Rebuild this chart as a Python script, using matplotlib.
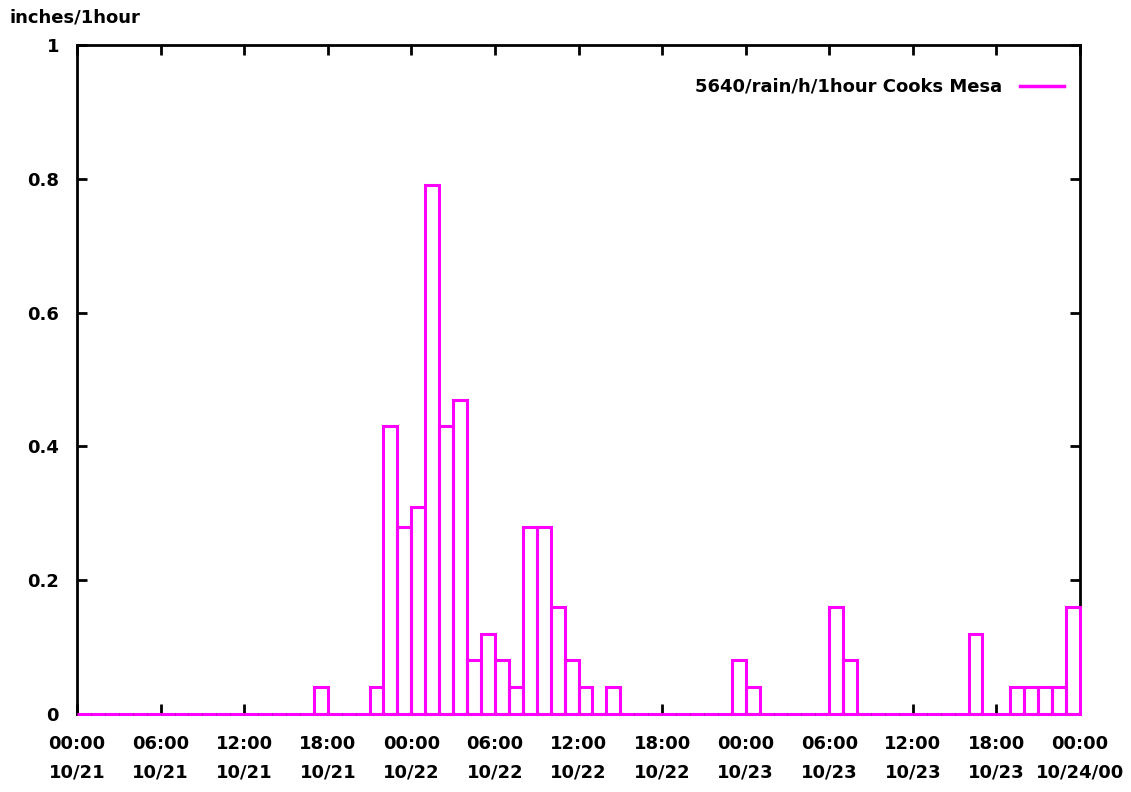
import numpy as np
import matplotlib
matplotlib.use("Agg")
import matplotlib.pyplot as plt
from matplotlib.lines import Line2D

# hourly rainfall, 10/21 00:00 .. 10/23 23:00 (one value per hour)
rain_hours = [17, 21, 22, 23, 24, 25, 26, 27, 28, 29, 30, 31, 32, 33, 34, 35, 36, 38,
              47, 48, 54, 55, 64, 67, 68, 69, 70, 71]
rain_values = [0.04, 0.04, 0.43, 0.28, 0.31, 0.79, 0.43, 0.47, 0.08, 0.12, 0.08, 0.04,
               0.28, 0.28, 0.16, 0.08, 0.04, 0.04,
               0.08, 0.04, 0.16, 0.08, 0.12, 0.04, 0.04, 0.04, 0.04, 0.16]
tick_hours = list(range(0, 73, 6))
tick_labels = ["00:00\n10/21", "06:00\n10/21", "12:00\n10/21", "18:00\n10/21",
               "00:00\n10/22", "06:00\n10/22", "12:00\n10/22", "18:00\n10/22",
               "00:00\n10/23", "06:00\n10/23", "12:00\n10/23", "18:00\n10/23",
               "00:00\n10/24/00"]

hours = np.arange(72)
values = np.zeros(72)
values[rain_hours] = rain_values

plt.rcParams["font.family"] = ["DejaVu Sans"]
plt.rcParams["font.weight"] = "bold"

fig = plt.figure(figsize=(11.31, 7.92), dpi=100)
ax = fig.add_axes([0.0681, 0.0985, 0.8868, 0.8447])

magenta = "#ff00ff"
ax.bar(hours, values, width=1, align="edge", fill=False, edgecolor=magenta,
       linewidth=2.2, zorder=3, clip_on=False)

ax.set_xlim(0, 72)
ax.set_ylim(0, 1)
ax.set_xticks(tick_hours)
ax.set_xticklabels(tick_labels, fontsize=13, fontweight="bold", linespacing=1.75)
ax.set_yticks([0, 0.2, 0.4, 0.6, 0.8, 1])
ax.set_yticklabels(["0", "0.2", "0.4", "0.6", "0.8", "1"], fontsize=13, fontweight="bold")
ax.tick_params(direction="in", length=7, width=2, top=True, right=True)
ax.tick_params(axis="x", pad=15)
ax.tick_params(axis="y", pad=13)
for s in ax.spines.values():
    s.set_linewidth(2)

fig.text(0.008, 0.972, "inches/1hour", fontsize=13, fontweight="bold", ha="left")

ax.legend(handles=[Line2D([], [], color=magenta, linewidth=2.5)],
          labels=["5640/rain/h/1hour Cooks Mesa"], loc="upper right", frameon=False,
          markerfirst=False, handlelength=2.4, handletextpad=1.0,
          bbox_to_anchor=(1.0, 0.975), prop={"weight": "bold", "size": 13})

fig.savefig("out.png", dpi=100)
